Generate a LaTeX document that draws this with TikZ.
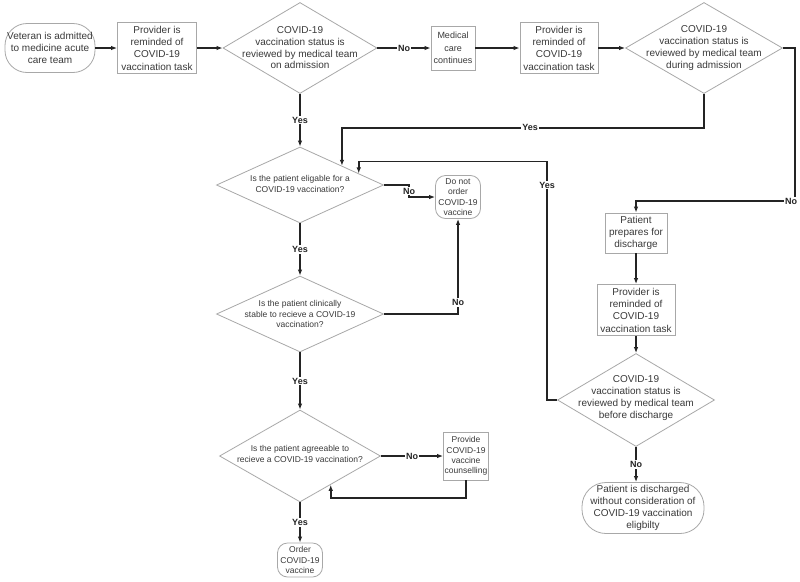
\documentclass[tikz,border=0pt]{standalone}
\usepackage{fontspec}
\setmainfont{Liberation Sans}
\usetikzlibrary{shapes.geometric,arrows.meta,calc}
\definecolor{bordergray}{HTML}{A8A8A8}
\definecolor{txtgray}{HTML}{3A3A3A}
\definecolor{linegray}{HTML}{242424}
\begin{document}
\begin{tikzpicture}[x=1pt,y=-1pt,
 box/.style={draw=bordergray, line width=0.8pt, fill=white, inner sep=0pt, align=center, text=txtgray, font=\fontsize{10}{12.3}\selectfont},
 rbox/.style={box, rounded corners=#1},
 dia/.style={diamond, draw=bordergray, line width=0.8pt, fill=white, inner sep=0pt},
 dtext/.style={align=center, text=txtgray, inner sep=0pt, font=\fontsize{10}{11.7}\selectfont},
 stext/.style={font=\fontsize{8.5}{10.3}\selectfont},
 arr/.style={draw=linegray, line width=1.8pt, -{Latex[length=6pt,width=4.5pt]}},
 lab/.style={fill=white, inner sep=1pt, text=linegray, font=\fontsize{9}{10}\selectfont\bfseries}
]
\fill[white] (0,0) rectangle (800,581);
\useasboundingbox (0,0) rectangle (800,581);

% top row
\node[rbox=22, minimum width=90, minimum height=49] (vet) at (50,48) {Veteran is admitted\\to medicine acute\\care team};
\node[box, minimum width=79, minimum height=51] (p1) at (157,48) {Provider is\\reminded of\\COVID-19\\vaccination task};
\node[dia, minimum width=154, minimum height=91] (d1) at (300,48) {};
\node[dtext] (d1t) at (d1) {COVID-19\\vaccination status is\\reviewed by medical team\\on admission};
\node[box, minimum width=44, minimum height=44, font=\fontsize{9}{12.3}\selectfont] (mc) at (453,48) {Medical\\care\\continues};
\node[box, minimum width=78, minimum height=51] (p2) at (559,48) {Provider is\\reminded of\\COVID-19\\vaccination task};
\node[dia, minimum width=157, minimum height=91] (d2) at (704,48) {};
\node[dtext] (d2t) at (d2) {COVID-19\\vaccination status is\\reviewed by medical team\\during admission};

% left column
\node[dia, minimum width=167, minimum height=76] (d3) at (300,185) {};
\node[dtext, stext] (d3t) at (300,184) {Is the patient eligable for a\\COVID-19 vaccination?};
\node[rbox=10, stext, minimum width=45, minimum height=43] (dno) at (458,197) {Do not\\order\\COVID-19\\vaccine};
\node[dia, minimum width=167, minimum height=76] (d4) at (300,314) {};
\node[dtext, stext] (d4t) at (d4) {Is the patient clinically\\stable to recieve a COVID-19\\vaccination?};
\node[dia, minimum width=161, minimum height=92] (d5) at (300,456) {};
\node[dtext, stext] (d5t) at (300,454) {Is the patient agreeable to\\recieve a COVID-19 vaccination?};
\node[box, stext, minimum width=45, minimum height=48] (pr) at (466,456) {Provide\\COVID-19\\vaccine\\counselling};
\node[rbox=10, stext, minimum width=45, minimum height=34] (ord) at (300,560) {Order\\COVID-19\\vaccine};

% right column
\node[box, minimum width=62, minimum height=40] (pp) at (636,233) {Patient\\prepares for\\discharge};
\node[box, minimum width=78, minimum height=51] (p3) at (636,310) {Provider is\\reminded of\\COVID-19\\vaccination task};
\node[dia, minimum width=157, minimum height=93] (d6) at (636,400) {};
\node[dtext] (d6t) at (636,398) {COVID-19\\vaccination status is\\reviewed by medical team\\before discharge};
\node[rbox=24, minimum width=122, minimum height=51, font=\fontsize{10}{12}\selectfont] (dis) at (643,508) {Patient is discharged\\without consideration of\\COVID-19 vaccination\\eligbilty};

% helper coordinates on diamond edges
\coordinate (d3a) at ($(d3.north)!0.5!(d3.east)$);
\coordinate (d3b) at ($(d3.north)!0.7!(d3.east)$);
\coordinate (d5a) at ($(d5.south)!0.38!(d5.east)$);
\coordinate (c2) at (795,201);

% connectors
\draw[arr] (vet.east) -- (p1.west);
\draw[arr] (p1.east) -- (d1.west);
\draw[arr] (d1.east) -- node[lab]{No} (mc.west);
\draw[arr] (mc.east) -- (p2.west);
\draw[arr] (p2.east) -- (d2.west);
\draw[arr] (d1.south) -- node[lab]{Yes} (d3.north);
\draw[arr] (d2.south) -- ++(0,34) -| node[lab,pos=0.24]{Yes} (d3a);
\draw[arr] (d2.east) -| (c2) node[lab,xshift=-4pt]{No} -| (pp.north);
\draw[arr] (d3.east) -| node[lab,pos=0.75]{No} ($(dno.west)+(-26,0)$) -- (dno.west);
\draw[arr] (d3.south) -- node[lab]{Yes} (d4.north);
\draw[arr] (d4.east) -| node[lab,pos=0.56]{No} (dno.south);
\draw[arr] (d4.south) -- node[lab]{Yes} (d5.north);
\draw[arr] (d5.east) -- node[lab]{No} (pr.west);
\draw[arr] (pr.south) |- ($(d5a)+(0,13)$) -- (d5a);
\draw[arr] (d5.south) -- node[lab]{Yes} (ord.north);
\draw[arr] (pp.south) -- (p3.north);
\draw[arr] (p3.south) -- (d6.north);
\draw[arr] (d6.south) -- node[lab]{No} (d6.south |- dis.north);
\draw[arr] (d6.west) -- ++(-10,0) |- node[lab,pos=0.45]{Yes} ($(d3b)+(0,-12)$) -- (d3b);
\end{tikzpicture}
\end{document}
